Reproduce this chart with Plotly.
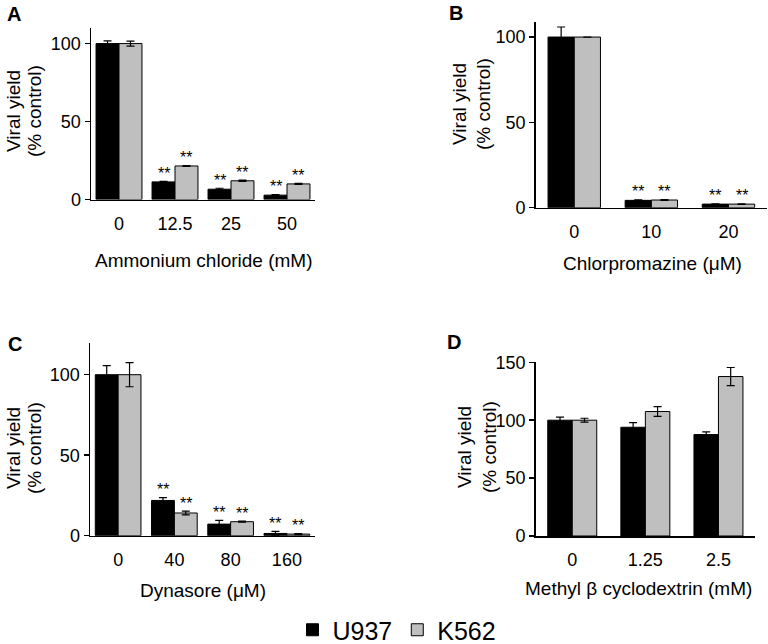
import plotly.graph_objects as go

W, H = 768, 644

# ---------------- data ----------------
A_cats = ["0", "12.5", "25", "50"]
A_u937 = [100, 11.3, 6.6, 2.8]
A_u937_err = [1.7, 0.3, 0.6, 0.3]
A_k562 = [100, 21.5, 12.0, 10.0]
A_k562_err = [1.6, 0.3, 0.4, 0.3]
A_sig_u937 = ["", "**", "**", "**"]
A_sig_k562 = ["", "**", "**", "**"]

B_cats = ["0", "10", "20"]
B_u937 = [100, 4.3, 2.1]
B_u937_err = [5.9, 0.3, 0.2]
B_k562 = [100, 4.5, 2.1]
B_k562_err = [0, 0.2, 0.2]
B_sig_u937 = ["", "**", "**"]
B_sig_k562 = ["", "**", "**"]

C_cats = ["0", "40", "80", "160"]
C_u937 = [100, 21.9, 7.2, 1.4]
C_u937_err = [5.6, 1.7, 2.3, 1.3]
C_k562 = [100, 14.1, 8.7, 1.0]
C_k562_err = [7.5, 1.2, 0.3, 0.3]
C_sig_u937 = ["", "**", "**", "**"]
C_sig_k562 = ["", "**", "**", "**"]

D_cats = ["0", "1.25", "2.5"]
D_u937 = [100, 93.9, 87.6]
D_u937_err = [2.6, 4.0, 2.3]
D_k562 = [100, 107.5, 137.7]
D_k562_err = [1.7, 4.2, 7.8]
D_sig_u937 = ["", "", ""]
D_sig_k562 = ["", "", ""]

series_names = ["U937", "K562"]
series_colors = ["#000000", "#BFBFBF"]
y_title_lines = ["Viral yield", "(% control)"]

FONT = "Liberation Sans, Arial, sans-serif"

# panel geometry in pixels: x0, x1, ytop, ybottom
panels = [
    dict(letter="A", cats=A_cats, u=A_u937, ue=A_u937_err, k=A_k562, ke=A_k562_err,
         su=A_sig_u937, sk=A_sig_k562, xt="Ammonium chloride (mM)",
         px=(91, 315), py=(28, 199.5), yr=[0, 110], yt=[0, 50, 100], bw=0.41,
         letter_xy=(14, 14), ytitle_x=(13, 34), ytitle_y=111, xtitle_xy=(203, 260)),
    dict(letter="B", cats=B_cats, u=B_u937, ue=B_u937_err, k=B_k562, ke=B_k562_err,
         su=B_sig_u937, sk=B_sig_k562, xt="Chlorpromazine (μM)",
         px=(535.7, 767), py=(21.7, 207.7), yr=[0, 109], yt=[0, 50, 100], bw=0.34,
         letter_xy=(456, 13), ytitle_x=(460, 484), ytitle_y=104, xtitle_xy=(652, 263)),
    dict(letter="C", cats=C_cats, u=C_u937, ue=C_u937_err, k=C_k562, ke=C_k562_err,
         su=C_sig_u937, sk=C_sig_k562, xt="Dynasore (μM)",
         px=(90, 315), py=(343.3, 535.7), yr=[0, 119.5], yt=[0, 50, 100], bw=0.406,
         letter_xy=(15, 344), ytitle_x=(13, 34), ytitle_y=448, xtitle_xy=(203, 590)),
    dict(letter="D", cats=D_cats, u=D_u937, ue=D_u937_err, k=D_k562, ke=D_k562_err,
         su=D_sig_u937, sk=D_sig_k562, xt="Methyl β cyclodextrin (mM)",
         px=(535.7, 755), py=(362.3, 536), yr=[0, 150], yt=[0, 50, 100, 150], bw=0.335,
         letter_xy=(454, 342), ytitle_x=(464, 489), ytitle_y=447, xtitle_xy=(638, 588)),
]

fig = go.Figure()
annotations = []
layout_axes = {}

for i, p in enumerate(panels):
    n = i + 1
    xa = "x" if n == 1 else f"x{n}"
    ya = "y" if n == 1 else f"y{n}"
    xkey = "xaxis" if n == 1 else f"xaxis{n}"
    ykey = "yaxis" if n == 1 else f"yaxis{n}"
    idx = list(range(len(p["cats"])))
    bw = p["bw"]
    for s, (vals, errs, sig, off) in enumerate([(p["u"], p["ue"], p["su"], -bw),
                                               (p["k"], p["ke"], p["sk"], 0.0)]):
        fig.add_trace(go.Bar(
            x=idx, y=vals, width=bw, offset=off,
            marker=dict(color=series_colors[s], line=dict(color="#000000", width=1)),
            error_y=dict(type="data", array=errs, color="#000000", thickness=1.2, width=4),
            name=series_names[s], showlegend=(i == 0), legendgroup=series_names[s],
            xaxis=xa, yaxis=ya, hoverinfo="skip",
        ))
        for j, t in enumerate(sig):
            if t:
                annotations.append(dict(
                    x=j + off + bw / 2, y=vals[j] + errs[j], xref=xa, yref=ya,
                    text=t, showarrow=False, yanchor="middle", yshift=8,
                    font=dict(size=16, color="#000000", family=FONT)))
    x0, x1 = p["px"]
    yt_, yb_ = p["py"]
    layout_axes[xkey] = dict(
        domain=[x0 / W, x1 / W], range=[-0.5, len(idx) - 0.5], anchor=ya,
        tickvals=idx, ticktext=p["cats"], showline=True, linecolor="#000000",
        linewidth=1.5, ticks="outside", ticklen=7, tickcolor="rgba(0,0,0,0)",
        showgrid=False, zeroline=False, fixedrange=True, automargin=False,
        tickfont=dict(size=18, color="#000000", family=FONT))
    layout_axes[ykey] = dict(
        domain=[1 - yb_ / H, 1 - yt_ / H], range=p["yr"], anchor=xa,
        tickvals=p["yt"], showline=True, linecolor="#000000", linewidth=1.5,
        ticks="outside", ticklen=5, tickwidth=1.5, tickcolor="#000000",
        showgrid=False, zeroline=False, fixedrange=True, automargin=False,
        tickfont=dict(size=18, color="#000000", family=FONT))
    lx, ly = p["letter_xy"]
    annotations.append(dict(x=lx / W, y=1 - ly / H, xref="paper", yref="paper",
                            text=f"<b>{p['letter']}</b>", showarrow=False,
                            xanchor="center", yanchor="middle",
                            font=dict(size=20, color="#000000", family=FONT)))
    for line_text, tx in zip(y_title_lines, p["ytitle_x"]):
        annotations.append(dict(x=tx / W, y=1 - p["ytitle_y"] / H, xref="paper", yref="paper",
                                text=line_text, showarrow=False, textangle=-90,
                                xanchor="center", yanchor="middle",
                                font=dict(size=19, color="#000000", family=FONT)))
    xx, xy = p["xtitle_xy"]
    annotations.append(dict(x=xx / W, y=1 - xy / H, xref="paper", yref="paper",
                            text=p["xt"], showarrow=False,
                            xanchor="center", yanchor="middle",
                            font=dict(size=19, color="#000000", family=FONT)))

fig.update_layout(
    width=W, height=H, margin=dict(l=0, r=0, t=0, b=0, autoexpand=False),
    paper_bgcolor="#FFFFFF", plot_bgcolor="#FFFFFF",
    annotations=annotations,
    legend=dict(orientation="h", x=397 / W, xanchor="center", y=1 - 630 / H, yanchor="middle",
                font=dict(size=25, color="#000000", family=FONT),
                itemwidth=30, tracegroupgap=0, bgcolor="rgba(0,0,0,0)"),
    showlegend=True,
    **layout_axes,
)

fig.write_html(
    "out.html",
    config={"displayModeBar": False, "staticPlot": True},
    post_script="document.body.style.margin='0';document.body.style.padding='0';"
                "document.body.style.overflow='hidden';",
)
